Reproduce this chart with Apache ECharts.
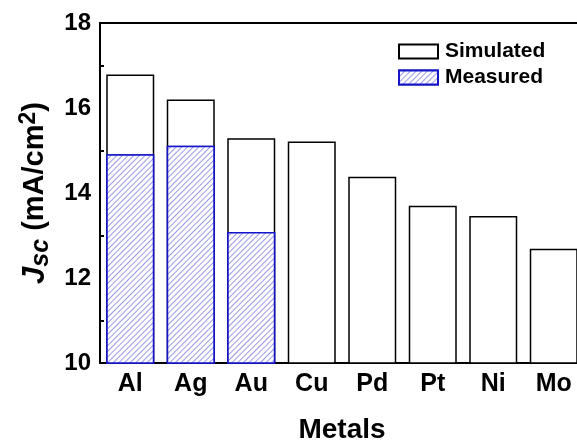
<!DOCTYPE html>
<html>
<head>
<meta charset="utf-8">
<script src="https://cdn.jsdelivr.net/npm/echarts@6/dist/echarts.min.js"></script>
<style>
  html, body { margin: 0; padding: 0; background: #fff; }
  #main { width: 577px; height: 442px; }
</style>
</head>
<body>
<div id="main"></div>
<script>
var metals = ['Al', 'Ag', 'Au', 'Cu', 'Pd', 'Pt', 'Ni', 'Mo'];
var simulated = [16.79, 16.2, 15.29, 15.21, 14.38, 13.7, 13.46, 12.69];
var measured = [14.91, 15.11, 13.08, '-', '-', '-', '-', '-'];
var yTicks = [10, 12, 14, 16, 18];

var myChart = echarts.init(document.getElementById('main'));
var font = 'Arial, "Liberation Sans", sans-serif';

option = {
    animation: false,
    textStyle: { fontFamily: font },
    grid: {
        left: 100, top: 23, width: 484, bottom: 79,
        outerBoundsMode: 'none',
        containLabel: false,
        show: true, borderColor: '#000', borderWidth: 2
    },
    legend: {
        orient: 'vertical',
        left: 398, top: 41, padding: 0,
        itemWidth: 39, itemHeight: 14, itemGap: 5,
        icon: 'rect',
        data: ['Simulated', 'Measured'],
        textStyle: { fontFamily: font, fontSize: 21, fontWeight: 'bold', color: '#000', padding: [0, 0, 0, 2] }
    },
    xAxis: [{
        type: 'category',
        data: metals,
        name: 'Metals',
        nameLocation: 'middle',
        nameGap: 53,
        nameTextStyle: { fontFamily: font, fontSize: 28, fontWeight: 'bold', color: '#000' },
        axisLine: { lineStyle: { color: '#000', width: 2 } },
        axisTick: { inside: true, alignWithLabel: true, length: 6, lineStyle: { color: '#000', width: 2 } },
        axisLabel: { fontFamily: font, fontSize: 25, fontWeight: 'bold', color: '#000', margin: 9 }
    }, {
        type: 'category',
        data: metals,
        position: 'bottom',
        axisLine: { show: false },
        axisTick: { inside: true, length: 3, lineStyle: { color: '#000', width: 2 } },
        axisLabel: { show: false }
    }],
    yAxis: {
        type: 'value',
        min: 10, max: 18, interval: 2,
        name: '{j|J}{sc|sc} (mA/cm{sup|2})',
        nameLocation: 'middle',
        nameGap: 44,
        nameTextStyle: {
            fontFamily: font, fontSize: 29, fontWeight: 'bold', color: '#000', lineHeight: 36,
            rich: {
                j: { fontFamily: font, fontSize: 31, fontWeight: 'bold', fontStyle: 'italic', color: '#000', lineHeight: 36 },
                sc: { fontFamily: font, fontSize: 25, fontWeight: 'bold', fontStyle: 'italic', color: '#000', lineHeight: 32, verticalAlign: 'bottom' },
                sup: { fontFamily: font, fontSize: 23, fontWeight: 'bold', color: '#000', lineHeight: 36, verticalAlign: 'top' }
            }
        },
        axisLine: { show: true, lineStyle: { color: '#000', width: 2 } },
        axisTick: { inside: true, length: 6, lineStyle: { color: '#000', width: 2 } },
        minorTick: { show: true, splitNumber: 2, length: 4, lineStyle: { color: '#000', width: 2 } },
        splitLine: { show: false },
        axisLabel: {
            fontFamily: font, fontSize: 24, fontWeight: 'bold', color: '#000', margin: 9,
            formatter: function (v) { return yTicks.indexOf(v) >= 0 ? v : ''; }
        }
    },
    series: [{
        name: 'Simulated',
        type: 'bar',
        data: simulated,
        barWidth: 48,
        itemStyle: { color: '#fff', borderColor: '#000', borderWidth: 1.5 }
    }, {
        name: 'Measured',
        type: 'bar',
        data: measured,
        barWidth: 48,
        barGap: '-100%',
        itemStyle: {
            color: '#fff',
            borderColor: '#1414c8', borderWidth: 1.5,
            // 斜线填充
            decal: {
                symbol: 'rect',
                symbolSize: 1,
                color: '#9a9ae8',
                backgroundColor: '#fff',
                dashArrayX: [1, 0],
                dashArrayY: [1, 2.5],
                rotation: -Math.PI / 4
            }
        }
    }]
};
myChart.setOption(option);
</script>
</body>
</html>
